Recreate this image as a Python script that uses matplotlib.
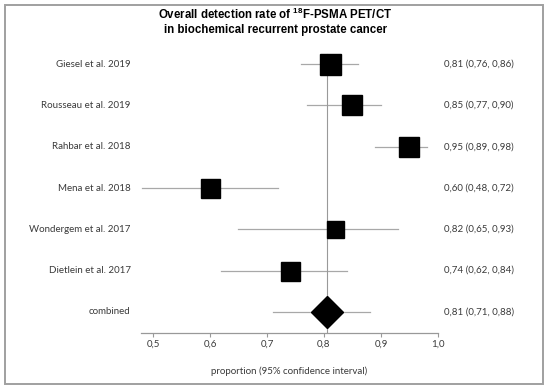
import matplotlib
matplotlib.use("Agg")
import matplotlib.pyplot as plt
from matplotlib.patches import Rectangle

# studies, estimates and 95% CI
studies = ["Giesel et al. 2019", "Rousseau et al. 2019", "Rahbar et al. 2018",
           "Mena et al. 2018", "Wondergem et al. 2017", "Dietlein et al. 2017"]
est = [0.81, 0.85, 0.95, 0.60, 0.82, 0.74]
lo = [0.76, 0.77, 0.89, 0.48, 0.65, 0.62]
hi = [0.86, 0.90, 0.98, 0.72, 0.93, 0.84]
box_px = [21, 20, 20, 19, 17, 19]   # study weight -> box size

comb_est, comb_lo, comb_hi = 0.806, 0.71, 0.88
comb_label = "0,81 (0,71, 0,88)"

xticks = [0.5, 0.6, 0.7, 0.8, 0.9, 1.0]

def fmt(v):
    return f"{v:.2f}".replace(".", ",")

W, H = 550, 391
fig = plt.figure(figsize=(5.5, 3.91), dpi=100)

# axes spans x 141..438 px, rows at y 64..312 px (spacing ~41.3)
x0, x1 = 141, 438
ax = fig.add_axes([x0 / W, 1 - 332.5 / H, (x1 - x0) / W, (332.5 - 43.5) / H])
ax.set_xlim(0.479, 1.0)
ax.set_ylim(6.5, -0.5)

lab_font = "Lato"
fs = 7.0
gray = "#a8a8a8"
tcol = "#3a3a3a"

n = len(studies)
for i in range(n):
    ax.plot([lo[i], hi[i]], [i, i], color=gray, lw=0.9, zorder=1)
    ax.plot(est[i], i, marker="s", ms=box_px[i] * 0.72, color="black", zorder=3)
    ax.text(-0.035, i, studies[i], transform=ax.get_yaxis_transform(),
            ha="right", va="center", fontsize=fs, family=lab_font, color=tcol)
    ax.text(1.02, i, f"{fmt(est[i])} ({fmt(lo[i])}, {fmt(hi[i])})",
            transform=ax.get_yaxis_transform(), ha="left", va="center",
            fontsize=fs, family=lab_font, color=tcol)

# combined
ax.plot([comb_lo, comb_hi], [n, n], color=gray, lw=0.9, zorder=1)
ax.plot(comb_est, n, marker="D", ms=23 * 0.72, color="black", zorder=3)
ax.text(-0.035, n, "combined", transform=ax.get_yaxis_transform(),
        ha="right", va="center", fontsize=fs, family=lab_font, color=tcol)
ax.text(1.02, n, comb_label, transform=ax.get_yaxis_transform(),
        ha="left", va="center", fontsize=fs, family=lab_font, color=tcol)

# vertical reference line at pooled estimate
ax.plot([comb_est, comb_est], [-0.25, 6.5], color="#999999", lw=0.8, zorder=2)

for s in ["top", "right", "left"]:
    ax.spines[s].set_visible(False)
ax.spines["bottom"].set_color("#999999")
ax.spines["bottom"].set_linewidth(0.9)
ax.set_yticks([])
ax.set_xticks(xticks)
ax.set_xticklabels([f"{t:.1f}".replace(".", ",") for t in xticks],
                   fontsize=fs, family=lab_font, color=tcol)
ax.tick_params(axis="x", length=3, color="#999999", pad=2)
ax.set_xlabel("proportion (95% confidence interval)", fontsize=fs,
              family=lab_font, color=tcol, labelpad=13)

plt.rcParams["mathtext.fontset"] = "custom"
plt.rcParams["mathtext.bf"] = "Liberation Sans:bold"
fig.text(275 / W, 1 - 14 / H, r"Overall detection rate of $^{\mathbf{18}}$F-PSMA PET/CT",
         ha="center", va="center", fontsize=8.3, fontweight="bold",
         family="Liberation Sans")
fig.text(275 / W, 1 - 30 / H, "in biochemical recurrent prostate cancer",
         ha="center", va="center", fontsize=8.3, fontweight="bold",
         family="Liberation Sans")

# outer frame
fig.patches.append(Rectangle((5 / W, 1 - 384 / H), 538 / W, 379 / H,
                             transform=fig.transFigure, fill=False,
                             edgecolor="#a0a0a0", lw=1.4))

fig.savefig("out.png", dpi=100)
